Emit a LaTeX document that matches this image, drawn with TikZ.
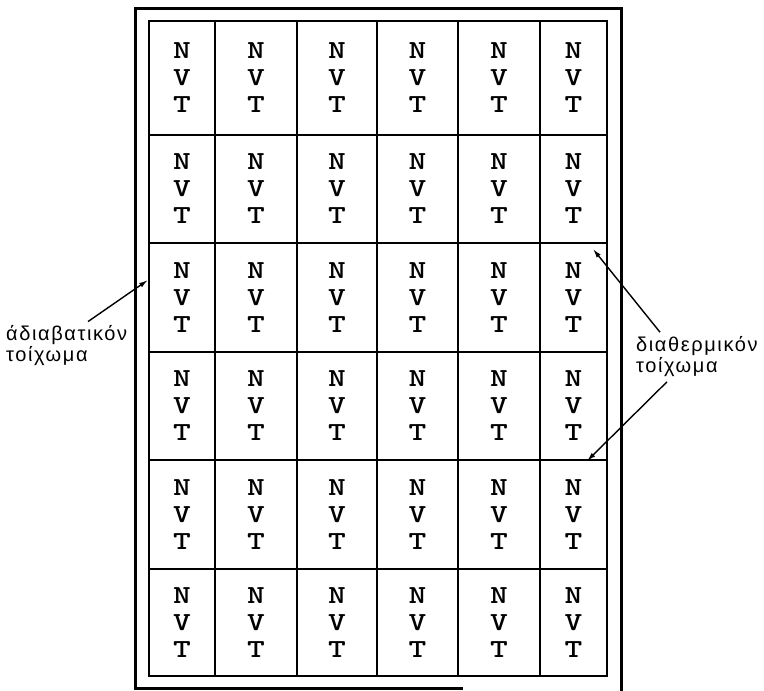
\documentclass[tikz,border=0pt]{standalone}
\usepackage{fontspec}
\usepackage{graphicx}
\newfontfamily\greekfont[LetterSpace=8]{Liberation Sans}
\newcommand\widechar[1]{\scalebox{1.3}[1]{#1}}
\usetikzlibrary{arrows.meta,calc}
\begin{document}
\begin{tikzpicture}[x=1pt,y=-1pt,
  cell/.style={font=\fontsize{26}{27}\selectfont\ttfamily\bfseries, align=center, inner sep=0pt},
  gridline/.style={line width=1.7pt},
  wall/.style={line width=2.8pt},
  outerwall/.style={line width=3pt, line join=miter},
  lbl/.style={font=\greekfont\fontsize{20}{19}\selectfont, align=left, inner sep=0pt, anchor=west},
  lblr/.style={font=\greekfont\fontsize{20}{21}\selectfont, align=left, inner sep=0pt, anchor=west},
  pointer/.style={line width=1.4pt, -{Latex[length=9pt,width=5pt]}}]

\useasboundingbox (0,0) rectangle (764,691);

% internal grid
\foreach \x in {215,297,377,458,540} \draw[gridline] (\x,21) -- (\x,676);
\foreach \y in {135,243,352,460,569} \draw[gridline] (149,\y) -- (607,\y);
% inner wall
\draw[wall] (149,21) rectangle (607,676);
% outer wall
\draw[outerwall] (463,688) -- (135,688) -- (135,8) -- (621,8) -- (621,691);

% cells
\foreach \c/\xc in {1/182,2/256,3/337,4/417.5,5/499,6/573.5}
  \foreach \r/\yc in {1/78,2/189,3/297.5,4/406,5/514.5,6/622.5}
    \node[cell] (c\r-\c) at (\xc,\yc) {\widechar{N}\\\widechar{V}\\\widechar{T}};

% labels
\node[lbl] (adiab) at (6,345.5) {άδιαβατικόν\\τοίχωμα};
\node[lblr] (diath) at (636,356.5) {διαθερμικόν\\τοίχωμα};

% pointer tips
\coordinate (atip) at (148,280);
\coordinate (dtipA) at (593,249);
\coordinate (dtipB) at (587,461);

\draw[pointer] ($(adiab.north west)+(82,-4)$) -- (atip);
\draw[pointer] ($(diath.north west)+(24,-4)$) -- (dtipA);
\draw[pointer] ($(diath.south west)+(31,5)$) -- (dtipB);
\end{tikzpicture}
\end{document}
